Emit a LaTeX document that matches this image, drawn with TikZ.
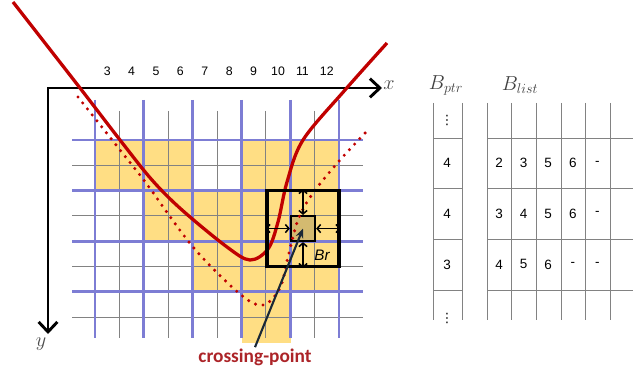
\documentclass[tikz,border=0pt]{standalone}
\usepackage{fontspec}
\setsansfont{Liberation Sans}
\newfontfamily\calibri{Carlito}
\newfontfamily\dejavu{DejaVu Sans}
\usepackage{tikz}
\usetikzlibrary{arrows.meta, positioning, fit, calc}
\definecolor{curvered}{RGB}{192,0,0}
\definecolor{gridblue}{RGB}{125,125,212}
\definecolor{gridgray}{RGB}{130,130,130}
\definecolor{cellyel}{RGB}{255,222,132}
\definecolor{celltan}{RGB}{212,186,112}
\definecolor{cpred}{RGB}{172,36,40}
\definecolor{arnavy}{RGB}{26,40,54}
\tikzset{
  thin grid/.style ={draw=gridgray, line width=0.8pt},
  bold grid/.style ={draw=gridblue, line width=2.4pt},
  axis/.style      ={line width=2.5pt, line join=miter,
                     {Straight Barb[length=8.5pt,width=16pt]}-{Straight Barb[length=8.5pt,width=16pt]}},
  collbl/.style    ={font=\sffamily\fontsize{10.5}{12}\selectfont, inner sep=0pt},
  axlbl/.style     ={font=\fontsize{16}{18}\selectfont, text=black!70, inner sep=0pt},
  hdr/.style       ={font=\fontsize{17}{20}\selectfont, text=black!75, inner sep=0pt},
  tblnum/.style    ={font=\sffamily\fontsize{11.5}{13}\selectfont, inner sep=0pt},
  tbldots/.style   ={font=\dejavu\fontsize{11}{12}\selectfont, inner sep=0pt},
  tblline/.style   ={draw=gridgray, line width=0.8pt},
  realcurve/.style ={draw=curvered, line width=2.8pt},
  dotcurve/.style  ={draw=curvered, line width=2.9pt, line cap=round,
                     dash pattern=on 0pt off 6.5pt},
  cellbox/.style   ={draw=black, fill=celltan, line width=1.6pt, inner sep=0pt},
  winbox/.style    ={draw=black, line width=2.6pt, inner sep=0pt},
  dbl/.style       ={{Straight Barb[length=3pt,width=7pt]}-{Straight Barb[length=3pt,width=7pt]},
                     line width=1.3pt},
  brlbl/.style     ={font=\sffamily\itshape\fontsize{13}{15}\selectfont, inner sep=0pt},
  cplbl/.style     ={font=\calibri\bfseries\fontsize{16.5}{18}\selectfont, text=cpred, inner sep=1pt},
  cparrow/.style   ={-{Stealth[length=8pt,width=6.5pt]}, draw=arnavy, line width=1.8pt},
}
\def\cw{24.4}
\def\ch{25.3}

\begin{document}
\begin{tikzpicture}[x=0.03cm, y=-0.03cm]
\useasboundingbox (0,0) rectangle (644,371);

% occupied cells
\fill[cellyel] (95,140) rectangle (193,190.6);
\fill[cellyel] (242,140) rectangle (339,190.6);
\fill[cellyel] (144,190.6) rectangle (339,241.2);
\fill[cellyel] (193,241.2) rectangle (339,291.8);
\fill[cellyel] (242,291.8) rectangle (291,343);

% fine and coarse grid
\foreach \j in {1,3,5,7,9} \draw[thin grid] (95+\j*\cw,111) -- (95+\j*\cw,338);
\foreach \k in {1,3,5,7} \draw[thin grid] (72,140+\k*\ch) -- (363,140+\k*\ch);
\foreach \j in {0,2,...,10} \draw[bold grid] (95+\j*\cw,100) -- (95+\j*\cw,338);
\foreach \k in {0,2,4,6} \draw[bold grid] (72,140+\k*\ch) -- (363,140+\k*\ch);

\foreach \n [count=\i from 0] in {3,...,12}
  \node[collbl] (c\n) at (95+\i*\cw+\cw/2,71) {\n};

% axes
\coordinate (org) at (48,88);
\coordinate (xend) at (382,88);
\coordinate (yend) at (48,334);
\draw[axis] (xend) -- (org) -- (yend);
\node[axlbl] (xl) at (389,85) {$x$};
\node[axlbl] (yl) at (41,344) {$y$};

\node[cellbox, fit={(290.8,215.9) (315.2,241.2)}] (cell) {};

% curves
\draw[realcurve] plot[smooth, tension=0.55] coordinates {(13,2) (80,88) (120,140) (152,180)
  (182,210) (227,247) (250,260) (268,249) (278,222) (287,182) (303,140) (345,90) (387,43)};
\draw[dotcurve] plot[smooth, tension=0.55] coordinates {(78,97) (120,150) (146,183) (193,247)
  (240,294) (263,305) (280,288) (288,257) (298,220) (313,193) (340,160) (368,130)};

\node[winbox, fit={(267,190.6) (339,266.5)}] (win) {};
\draw[dbl] (cell.north) -- (cell.north |- win.north);
\draw[dbl] (cell.south) -- (cell.south |- win.south);
\draw[dbl] (cell.west) -- (cell.west -| win.west);
\draw[dbl] (cell.east) -- (cell.east -| win.east);
\node[brlbl] (br) at (322,255) {Br};

\node[cplbl] (cp) at (255,357) {crossing-point};
\draw[cparrow] (cp.north) -- (cell.center);

% B_ptr and B_list
\node[hdr] (bptr) at (446,85) {$B_{ptr}$};
\node[hdr] (blist) at (520,85) {$B_{list}$};
\foreach \x in {433,462,487,511,536,561,585,610} \draw[tblline] (\x,103) -- (\x,320);
\foreach \y in {138,188.5,239,290} {
  \draw[tblline] (433,\y) -- (462,\y);
  \draw[tblline] (487,\y) -- (633,\y);
}
\node[tbldots] (ptop) at (447,120) {⋮};
\node[tbldots] (pbot) at (447,318) {⋮};
\foreach \p/\a/\b/\c/\d/\e [count=\r from 0] in {4/2/3/5/6/-, 4/3/4/5/6/-, 3/4/5/6/-/-} {
  \node[tblnum] (p\r) at (447,163+\r*50.7) {\p};
  \foreach \v [count=\k from 0] in {\a,\b,\c,\d,\e}
    \node[tblnum] (l\r\k) at (499+\k*24.6,163+\r*50.7) {\v};
}
\end{tikzpicture}
\end{document}
